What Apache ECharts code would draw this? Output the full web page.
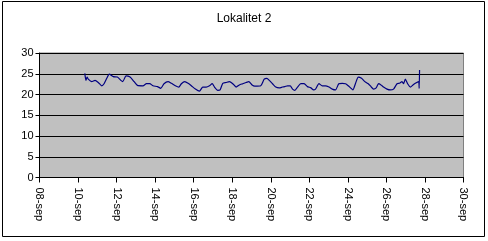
<!DOCTYPE html>
<html><head><meta charset="utf-8">
<script src="https://cdn.jsdelivr.net/npm/echarts@6/dist/echarts.min.js"></script>
<style>html,body{margin:0;padding:0;background:#fff}#c{width:488px;height:241px}</style>
</head><body><div id="c"></div>
<script>
var title = "Lokalitet 2";
// time as day-of-September (fractional)
var times = [10.35,10.41,10.47,10.53,10.71,10.88,11.05,11.23,11.35,11.49,11.62,11.83,12.04,12.22,12.32,12.49,12.70,12.91,13.08,13.37,13.55,13.72,13.89,14.12,14.29,14.46,14.67,14.84,15.05,15.23,15.36,15.54,15.71,15.88,16.09,16.30,16.47,16.65,16.82,16.96,17.08,17.25,17.37,17.51,17.68,17.85,18.03,18.20,18.37,18.55,18.72,18.86,19.03,19.17,19.48,19.66,19.80,19.92,20.09,20.26,20.44,20.61,20.73,20.87,21.01,21.13,21.25,21.39,21.56,21.73,21.90,22.08,22.22,22.32,22.50,22.67,22.84,23.02,23.19,23.36,23.53,23.71,23.88,24.02,24.14,24.26,24.40,24.54,24.71,24.88,25.06,25.20,25.33,25.47,25.59,25.72,25.85,26.03,26.20,26.37,26.55,26.68,26.81,26.89,26.98,27.10,27.24,27.38,27.50,27.67,27.70,27.72];
var temps = [25.1,23.4,24.2,23.7,23.1,23.4,22.9,22.1,22.6,23.9,24.9,24.3,24.2,23.4,23.1,24.5,24.2,23.1,22.2,22.1,22.6,22.6,22.1,21.9,21.5,22.6,23.1,22.7,22.1,21.8,22.6,23.1,22.7,22.1,21.3,20.8,21.8,21.8,22.1,22.6,21.8,21.0,21.1,22.7,22.9,23.1,22.6,21.8,22.3,22.6,22.9,23.1,22.3,22.0,22.1,23.7,23.9,23.4,22.6,21.8,21.6,21.8,21.9,22.1,22.1,21.3,21.0,21.8,22.6,22.6,21.9,21.6,21.1,21.3,22.6,22.1,22.1,21.8,21.3,21.1,22.6,22.7,22.6,22.1,21.6,21.1,22.7,24.2,23.9,23.1,22.6,21.9,21.3,21.6,22.6,22.3,21.8,21.3,21.1,21.3,22.6,22.7,23.1,22.6,23.7,22.6,21.8,22.3,22.7,23.1,21.5,25.9];
var xMin = 8, xMax = 30, xStep = 2;
var yMin = 0, yMax = 30, yStep = 5;

var data = times.map(function(t, i){ return [t, temps[i]]; });
var chart = echarts.init(document.getElementById('c'), null, {renderer:'canvas'});
var font = 'Liberation Sans, Arial, sans-serif';
chart.setOption({
  animation:false,
  backgroundColor:'#fff',
  title:{text:title, left:'center', top:8, textStyle:{fontFamily:font, fontSize:12, fontWeight:'normal', color:'#000'}},
  grid:{left:39.5, right:24.5, top:53, bottom:63.5, show:true, backgroundColor:'#C0C0C0', borderColor:'#808080', borderWidth:1},
  xAxis:{type:'value', min:xMin, max:xMax, interval:xStep,
    axisLine:{onZero:false, lineStyle:{color:'#000', width:1}},
    axisTick:{show:true, length:5, inside:false, lineStyle:{color:'#000'}},
    splitLine:{show:false},
    axisLabel:{rotate:-90, margin:10, fontFamily:font, fontSize:11, color:'#000',
      formatter:function(v){ var d = Math.round(v); return (d<10?'0':'')+d+'-sep'; }}
  },
  yAxis:{type:'value', min:yMin, max:yMax, interval:yStep,
    axisLine:{show:true, lineStyle:{color:'#000', width:1}},
    axisTick:{show:true, length:4, lineStyle:{color:'#000'}},
    splitLine:{show:true, lineStyle:{color:'#000', width:1}},
    axisLabel:{margin:6, fontFamily:font, fontSize:11, color:'#000'}
  },
  series:[{type:'line', data:data, showSymbol:false, symbol:'none', smooth:0.2,
    lineStyle:{color:'#000080', width:1.2}}],
  graphic:[{type:'rect', shape:{x:2.5, y:1.5, width:482, height:235}, style:{fill:'none', stroke:'#000', lineWidth:1}, silent:true}]
});
</script></body></html>
